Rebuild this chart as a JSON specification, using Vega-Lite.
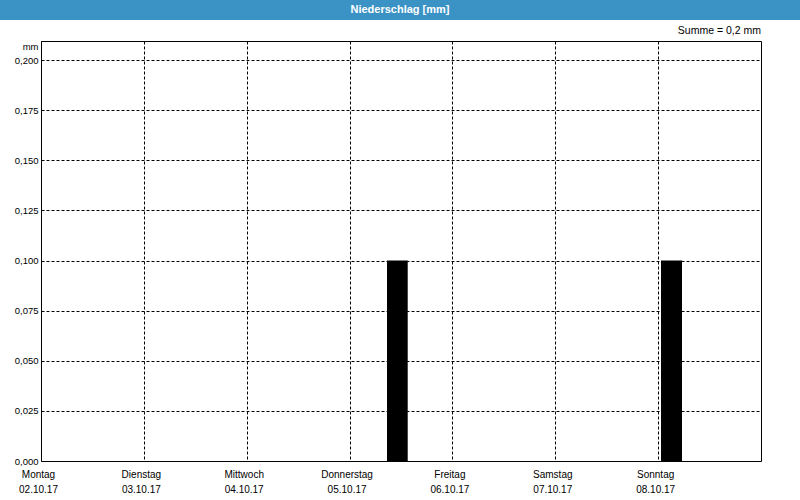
{
  "$schema": "https://vega.github.io/schema/vega-lite/v6.json",
  "padding": 0,
  "background": "white",
  "config": {
    "font": "Liberation Sans",
    "view": {"stroke": null}
  },
  "spacing": 5,
  "vconcat": [
    {
      "width": 800,
      "height": 20,
      "view": {"fill": "#3b93c5", "stroke": null},
      "data": {"values": [{"t": "Niederschlag [mm]"}]},
      "mark": {"type": "text", "color": "white", "fontWeight": "bold", "fontSize": 11, "baseline": "middle"},
      "encoding": {"text": {"field": "t", "type": "nominal"}}
    },
    {
      "spacing": 0,
      "hconcat": [
        {
          "width": 1,
          "height": 420,
          "data": {"values": [{"t": ""}]},
          "mark": {"type": "text"},
          "encoding": {"text": {"field": "t", "type": "nominal"}}
        },
        {
          "width": 720,
          "height": 420,
          "title": {"text": "Summe = 0,2 mm", "anchor": "end", "frame": "group", "fontSize": 10.5, "fontWeight": "normal", "color": "black", "offset": 5},
          "view": {"stroke": "black", "strokeWidth": 1, "fill": "white"},
          "data": {
            "values": [
              {"start": "2017-10-05T08:44:00Z", "end": "2017-10-05T13:34:00Z", "mm": 0.1},
              {"start": "2017-10-08T00:40:00Z", "end": "2017-10-08T05:34:00Z", "mm": 0.1}
            ]
          },
          "mark": {"type": "rect", "color": "black"},
          "encoding": {
            "x": {
              "field": "start",
              "type": "temporal",
              "scale": {
                "type": "utc",
                "domain": [
                  {"year": 2017, "month": 10, "date": 2, "utc": true},
                  {"year": 2017, "month": 10, "date": 9, "utc": true}
                ]
              },
              "axis": {
                "title": null,
                "values": [
                  {"year": 2017, "month": 10, "date": 2, "utc": true},
                  {"year": 2017, "month": 10, "date": 3, "utc": true},
                  {"year": 2017, "month": 10, "date": 4, "utc": true},
                  {"year": 2017, "month": 10, "date": 5, "utc": true},
                  {"year": 2017, "month": 10, "date": 6, "utc": true},
                  {"year": 2017, "month": 10, "date": 7, "utc": true},
                  {"year": 2017, "month": 10, "date": 8, "utc": true}
                ],
                "labelExpr": "[['Sonntag','Montag','Dienstag','Mittwoch','Donnerstag','Freitag','Samstag'][utcday(datum.value)], utcFormat(datum.value, '%d.%m.%y')]",
                "labelFontSize": 10,
                "labelColor": "black",
                "labelPadding": 8,
                "labelLineHeight": 15,
                "labelBaseline": "top",
                "labelFlush": false,
                "labelOverlap": false,
                "labelAlign": "center",
                "labelOffset": -3,
                "ticks": false,
                "domain": false,
                "grid": true,
                "gridColor": "black",
                "gridOpacity": 1,
                "gridDash": [3, 2],
                "gridWidth": 1
              }
            },
            "x2": {"field": "end"},
            "y": {
              "field": "mm",
              "type": "quantitative",
              "scale": {"domain": [0, 0.2095], "nice": false, "zero": true},
              "axis": {
                "title": "mm",
                "titleAngle": 0,
                "titleAlign": "right",
                "titleBaseline": "middle",
                "titleX": -3,
                "titleY": 5,
                "titleFontSize": 9.5,
                "titleFontWeight": "normal",
                "titleColor": "black",
                "values": [0, 0.025, 0.05, 0.075, 0.1, 0.125, 0.15, 0.175, 0.2],
                "labelExpr": "replace(format(datum.value, '.3f'), '.', ',')",
                "labelFontSize": 9.5,
                "labelColor": "black",
                "labelPadding": 3,
                "ticks": false,
                "domain": false,
                "minExtent": 39,
                "maxExtent": 39,
                "grid": true,
                "gridColor": "black",
                "gridOpacity": 1,
                "gridDash": [3, 2],
                "gridWidth": 1
              }
            }
          }
        }
      ]
    }
  ]
}
